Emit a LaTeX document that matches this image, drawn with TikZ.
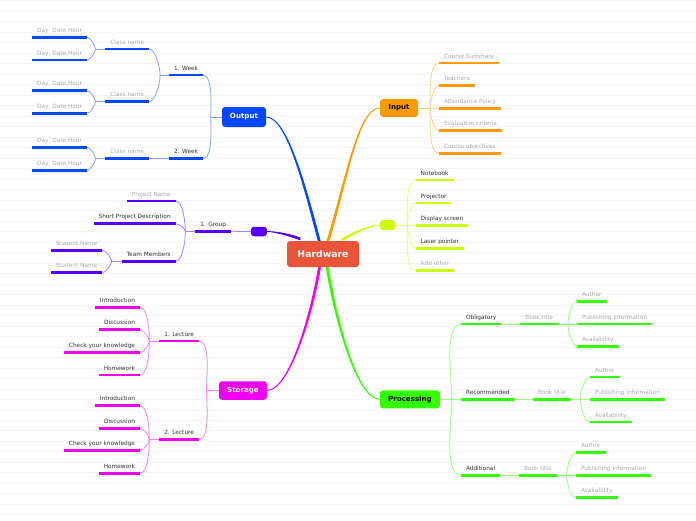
\documentclass[tikz,border=0pt]{standalone}
\usepackage{fontspec}
\setmainfont{DejaVu Sans}
\usepackage{tikz}

\definecolor{hwred}{HTML}{E9553B}
\definecolor{outblue}{HTML}{0047FF}
\definecolor{inorange}{HTML}{FF9900}
\definecolor{devlime}{HTML}{CCFF00}
\definecolor{grppurple}{HTML}{5500FF}
\definecolor{stmagenta}{HTML}{EE00EE}
\definecolor{prgreen}{HTML}{33FF00}
\definecolor{txtgray}{HTML}{ABABAB}
\definecolor{txtdark}{HTML}{333333}

\pgfdeclarelayer{bg}
\pgfsetlayers{bg,main}

\tikzset{
  topic/.style={rounded corners=3pt, inner sep=0pt, font=\bfseries\fontsize{7.1}{8.5}\selectfont},
  leaf/.style={inner xsep=5pt, inner ysep=3.6pt, outer sep=0pt, text height=4.4pt, text depth=1.4pt,
    font=\fontsize{5.8}{7}\selectfont, text=txtdark,
    append after command={(\tikzlastnode.south west) edge[draw=#1, line width=2.5pt] (\tikzlastnode.south east)}},
  pale/.style={text=txtgray},
  trunk/.style={fill=#1, draw=#1, line width=0.8pt, line join=round},
  twig/.style={draw=#1!50, line width=0.8pt, looseness=0.6},
  ruling/.style={draw=black!4, line width=0.6pt}
}

\begin{document}
\begin{tikzpicture}[x=1pt, y=-1pt]

\useasboundingbox (0,0) rectangle (696,520);

% Main topics
\node[topic, fill=hwred, text=white, minimum width=72pt, minimum height=26pt,
      font=\bfseries\fontsize{9.3}{11}\selectfont] (hw) at (323,254) {Hardware};
\node[topic, fill=outblue, text=white, minimum width=44pt, minimum height=20pt] (out) at (244,117) {Output};
\node[topic, fill=inorange, text=black, minimum width=38pt, minimum height=18pt] (in) at (399,108) {Input};
\node[topic, fill=devlime, minimum width=15pt, minimum height=10pt] (dev) at (387.5,225) {};
\node[topic, fill=grppurple, minimum width=16pt, minimum height=9.5pt] (grp) at (259,231.5) {};
\node[topic, fill=stmagenta, text=white, minimum width=48pt, minimum height=18.5pt] (st) at (243,390.5) {Storage};
\node[topic, fill=prgreen, text=black, minimum width=60pt, minimum height=18pt] (pr) at (410,399.3) {Processing};

\begin{pgfonlayer}{bg}
\fill[white] (0,0) rectangle (696,520);
\foreach \i in {0,...,49}
  \draw[ruling] (0,{0.7+10.49*\i}) -- (696,{0.7+10.49*\i});

% tapering trunks
\path[trunk=outblue] ([xshift=-4pt,yshift=-3pt]hw.north) to[out=105, in=0, in looseness=0.4] (out.east)
  to[out=0, in=105, out looseness=0.4] ([xshift=-2pt,yshift=-3pt]hw.north) -- cycle;
\path[trunk=inorange] ([xshift=3pt,yshift=-3pt]hw.north) to[out=72, in=180, in looseness=0.4] (in.west)
  to[out=180, in=72, out looseness=0.4] ([xshift=5pt,yshift=-3pt]hw.north) -- cycle;
\path[trunk=devlime] ([xshift=18.7pt,yshift=2pt]hw.north) to[out=30, in=180, in looseness=0.5] (dev.west)
  to[out=180, in=30, out looseness=0.5] ([xshift=18.7pt,yshift=0pt]hw.north) -- cycle;
\path[trunk=grppurple] ([xshift=-23pt,yshift=3pt]hw.north) to[out=160, in=0, in looseness=0.5] (grp.east)
  to[out=0, in=160, out looseness=0.5] ([xshift=-23pt,yshift=1pt]hw.north) -- cycle;
\path[trunk=stmagenta] ([xshift=-4pt,yshift=3pt]hw.south) to[out=-99, in=0, in looseness=0.4] (st.east)
  to[out=0, in=-99, out looseness=0.4] ([xshift=-2pt,yshift=3pt]hw.south) -- cycle;
\path[trunk=prgreen] ([xshift=2.7pt,yshift=3pt]hw.south) to[out=-81, in=180, in looseness=0.4] (pr.west)
  to[out=180, in=-81, out looseness=0.4] ([xshift=4.7pt,yshift=3pt]hw.south) -- cycle;
\end{pgfonlayer}


% Output
\node[leaf=outblue, anchor=south east] (wk1) at (203,75) {1. Week};
\node[leaf=outblue, anchor=south east] (wk2) at (203,158.7) {2. Week};
\node[leaf=outblue, pale, anchor=south east] (cn1) at (149,49) {Class name};
\node[leaf=outblue, pale, anchor=south east] (cn2) at (149,101.7) {Class name};
\node[leaf=outblue, pale, anchor=south east] (cn3) at (149,158.7) {Class name};
\node[leaf=outblue, pale, anchor=south east] (dt1) at (87,37.3) {Day, Date,Hour};
\node[leaf=outblue, pale, anchor=south east] (dt2) at (87,60) {Day, Date,Hour};
\node[leaf=outblue, pale, anchor=south east] (dt3) at (87,90.7) {Day, Date,Hour};
\node[leaf=outblue, pale, anchor=south east] (dt4) at (87,113.3) {Day, Date,Hour};
\node[leaf=outblue, pale, anchor=south east] (dt5) at (87,147.3) {Day, Date,Hour};
\node[leaf=outblue, pale, anchor=south east] (dt6) at (87,170.3) {Day, Date,Hour};

\coordinate (fout) at ([xshift=-11pt]out.west);
\coordinate (fwk1) at ([xshift=-9pt]wk1.south west);
\coordinate (fcn1) at ([xshift=-10pt]cn1.south west);
\coordinate (fcn2) at ([xshift=-10pt]cn2.south west);
\coordinate (fcn3) at ([xshift=-10pt]cn3.south west);

\draw[twig=outblue] (out.west) -- (fout);
\draw[twig=outblue] (fout) to[out=90, in=0] (wk1.south east);
\draw[twig=outblue] (fout) to[out=-90, in=0] (wk2.south east);
\draw[twig=outblue] (wk1.south west) -- (fwk1);
\draw[twig=outblue] (fwk1) to[out=90, in=0] (cn1.south east);
\draw[twig=outblue] (fwk1) to[out=-90, in=0] (cn2.south east);
\draw[twig=outblue] (wk2.south west) -- (cn3.south east);
\draw[twig=outblue] (cn1.south west) -- (fcn1);
\draw[twig=outblue] (fcn1) to[out=90, in=0] (dt1.south east);
\draw[twig=outblue] (fcn1) to[out=-90, in=0] (dt2.south east);
\draw[twig=outblue] (cn2.south west) -- (fcn2);
\draw[twig=outblue] (fcn2) to[out=90, in=0] (dt3.south east);
\draw[twig=outblue] (fcn2) to[out=-90, in=0] (dt4.south east);
\draw[twig=outblue] (cn3.south west) -- (fcn3);
\draw[twig=outblue] (fcn3) to[out=90, in=0] (dt5.south east);
\draw[twig=outblue] (fcn3) to[out=-90, in=0] (dt6.south east);


% Input
\node[leaf=inorange, pale, anchor=south west] (cs) at (439,63) {Course Summary};
\node[leaf=inorange, pale, anchor=south west] (te) at (439,85.7) {Teachers};
\node[leaf=inorange, pale, anchor=south west] (ap) at (439,108.3) {Attendance Policy};
\node[leaf=inorange, pale, anchor=south west] (ec) at (439,130.7) {Evaluation criteria};
\node[leaf=inorange, pale, anchor=south west] (co) at (439,153.3) {Course objectives};

\coordinate (fin) at ([xshift=12pt]in.east);

\draw[twig=inorange] (in.east) -- (fin);
\draw[twig=inorange] (fin) to[out=90, in=180] (cs.south west);
\draw[twig=inorange] (fin) to[out=90, in=180] (te.south west);
\draw[twig=inorange] (fin) -- (ap.south west);
\draw[twig=inorange] (fin) to[out=-90, in=180] (ec.south west);
\draw[twig=inorange] (fin) to[out=-90, in=180] (co.south west);


% Devices
\node[leaf=devlime, anchor=south west] (nb) at (415.7,180) {Notebook};
\node[leaf=devlime, anchor=south west] (pj) at (415.7,203) {Projector};
\node[leaf=devlime, anchor=south west] (ds) at (415.7,225.7) {Display screen};
\node[leaf=devlime, anchor=south west] (lp) at (415.7,248.3) {Laser pointer};
\node[leaf=devlime, pale, anchor=south west] (ao) at (415.7,270.7) {Add other};

\coordinate (fdev) at ([xshift=12.4pt]dev.east);

\draw[twig=devlime] (dev.east) -- (fdev);
\draw[twig=devlime] (fdev) to[out=90, in=180] (nb.south west);
\draw[twig=devlime] (fdev) to[out=90, in=180] (pj.south west);
\draw[twig=devlime] (fdev) -- (ds.south west);
\draw[twig=devlime] (fdev) to[out=-90, in=180] (lp.south west);
\draw[twig=devlime] (fdev) to[out=-90, in=180] (ao.south west);


% Group
\node[leaf=grppurple, anchor=south east] (g1) at (231,231.3) {1. Group};
\node[leaf=grppurple, pale, anchor=south east] (pn) at (175.7,201) {Project Name};
\node[leaf=grppurple, anchor=south east] (spd) at (175.7,223.7) {Short Project Description};
\node[leaf=grppurple, anchor=south east] (tm) at (175.7,261.3) {Team Members};
\node[leaf=grppurple, pale, anchor=south east] (sn1) at (102.3,250.3) {Student Name};
\node[leaf=grppurple, pale, anchor=south east] (sn2) at (102.3,272.7) {Student Name};

\coordinate (fg1) at ([xshift=-10pt]g1.south west);
\coordinate (ftm) at ([xshift=-10pt]tm.south west);

\draw[twig=grppurple] (grp.west) -- (g1.south east);
\draw[twig=grppurple] (g1.south west) -- (fg1);
\draw[twig=grppurple] (fg1) to[out=90, in=0] (pn.south east);
\draw[twig=grppurple] (fg1) to[out=90, in=0] (spd.south east);
\draw[twig=grppurple] (fg1) to[out=-90, in=0] (tm.south east);
\draw[twig=grppurple] (tm.south west) -- (ftm);
\draw[twig=grppurple] (ftm) to[out=90, in=0] (sn1.south east);
\draw[twig=grppurple] (ftm) to[out=-90, in=0] (sn2.south east);


% Storage
\node[leaf=stmagenta, anchor=south east] (lc1) at (199,341) {1. Lecture};
\node[leaf=stmagenta, anchor=south east] (lc2) at (199,439.3) {2. Lecture};
\node[leaf=stmagenta, anchor=south east] (intA) at (140,307.3) {Introduction};
\node[leaf=stmagenta, anchor=south east] (disA) at (140,329.7) {Discussion};
\node[leaf=stmagenta, anchor=south east] (chkA) at (140,352.7) {Check your knowledge};
\node[leaf=stmagenta, anchor=south east] (homA) at (140,375) {Homework};
\node[leaf=stmagenta, anchor=south east] (intB) at (140,405.7) {Introduction};
\node[leaf=stmagenta, anchor=south east] (disB) at (140,428.3) {Discussion};
\node[leaf=stmagenta, anchor=south east] (chkB) at (140,450.7) {Check your knowledge};
\node[leaf=stmagenta, anchor=south east] (homB) at (140,473.3) {Homework};

\coordinate (fst) at ([xshift=-12.3pt]st.west);
\coordinate (flc1) at ([xshift=-10pt]lc1.south west);
\coordinate (flc2) at ([xshift=-10pt]lc2.south west);

\draw[twig=stmagenta] (st.west) -- (fst);
\draw[twig=stmagenta] (fst) to[out=90, in=0] (lc1.south east);
\draw[twig=stmagenta] (fst) to[out=-90, in=0] (lc2.south east);
\draw[twig=stmagenta] (lc1.south west) -- (flc1);
\draw[twig=stmagenta] (flc1) to[out=90, in=0] (intA.south east);
\draw[twig=stmagenta] (flc1) to[out=90, in=0] (disA.south east);
\draw[twig=stmagenta] (flc1) to[out=-90, in=0] (chkA.south east);
\draw[twig=stmagenta] (flc1) to[out=-90, in=0] (homA.south east);
\draw[twig=stmagenta] (lc2.south west) -- (flc2);
\draw[twig=stmagenta] (flc2) to[out=90, in=0] (intB.south east);
\draw[twig=stmagenta] (flc2) to[out=90, in=0] (disB.south east);
\draw[twig=stmagenta] (flc2) to[out=-90, in=0] (chkB.south east);
\draw[twig=stmagenta] (flc2) to[out=-90, in=0] (homB.south east);


% Processing
\node[leaf=prgreen, anchor=south west] (obl) at (461,324) {Obligatory};
\node[leaf=prgreen, anchor=south west] (rec) at (461,399.3) {Recommended};
\node[leaf=prgreen, anchor=south west] (adl) at (461,475.3) {Additional};
\node[leaf=prgreen, pale, anchor=south west] (bkA) at (520.3,324) {Book title};
\node[leaf=prgreen, pale, anchor=south west] (bkB) at (533,399.3) {Book title};
\node[leaf=prgreen, pale, anchor=south west] (bkC) at (519,475.3) {Book title};
\node[leaf=prgreen, pale, anchor=south west] (auA) at (577,301.3) {Author};
\node[leaf=prgreen, pale, anchor=south west] (piA) at (577,324) {Publishing information};
\node[leaf=prgreen, pale, anchor=south west] (avA) at (577,346.3) {Availability};
\node[leaf=prgreen, pale, anchor=south west] (auB) at (590,377) {Author};
\node[leaf=prgreen, pale, anchor=south west] (piB) at (590,399.3) {Publishing information};
\node[leaf=prgreen, pale, anchor=south west] (avB) at (590,422) {Availability};
\node[leaf=prgreen, pale, anchor=south west] (auC) at (576,452.7) {Author};
\node[leaf=prgreen, pale, anchor=south west] (piC) at (576,475.3) {Publishing information};
\node[leaf=prgreen, pale, anchor=south west] (avC) at (576,497.7) {Availability};

\coordinate (fpr) at ([xshift=11.7pt]pr.east);
\coordinate (fbkA) at ([xshift=10pt]bkA.south east);
\coordinate (fbkB) at ([xshift=9.5pt]bkB.south east);
\coordinate (fbkC) at ([xshift=10pt]bkC.south east);

\draw[twig=prgreen] (pr.east) -- (fpr);
\draw[twig=prgreen] (fpr) to[out=90, in=180] (obl.south west);
\draw[twig=prgreen] (fpr) -- (rec.south west);
\draw[twig=prgreen] (fpr) to[out=-90, in=180] (adl.south west);
\draw[twig=prgreen] (obl.south east) -- (bkA.south west);
\draw[twig=prgreen] (rec.south east) -- (bkB.south west);
\draw[twig=prgreen] (adl.south east) -- (bkC.south west);
\draw[twig=prgreen] (bkA.south east) -- (piA.south west);
\draw[twig=prgreen] (fbkA) to[out=90, in=180] (auA.south west);
\draw[twig=prgreen] (fbkA) to[out=-90, in=180] (avA.south west);
\draw[twig=prgreen] (bkB.south east) -- (piB.south west);
\draw[twig=prgreen] (fbkB) to[out=90, in=180] (auB.south west);
\draw[twig=prgreen] (fbkB) to[out=-90, in=180] (avB.south west);
\draw[twig=prgreen] (bkC.south east) -- (piC.south west);
\draw[twig=prgreen] (fbkC) to[out=90, in=180] (auC.south west);
\draw[twig=prgreen] (fbkC) to[out=-90, in=180] (avC.south west);

\end{tikzpicture}
\end{document}
